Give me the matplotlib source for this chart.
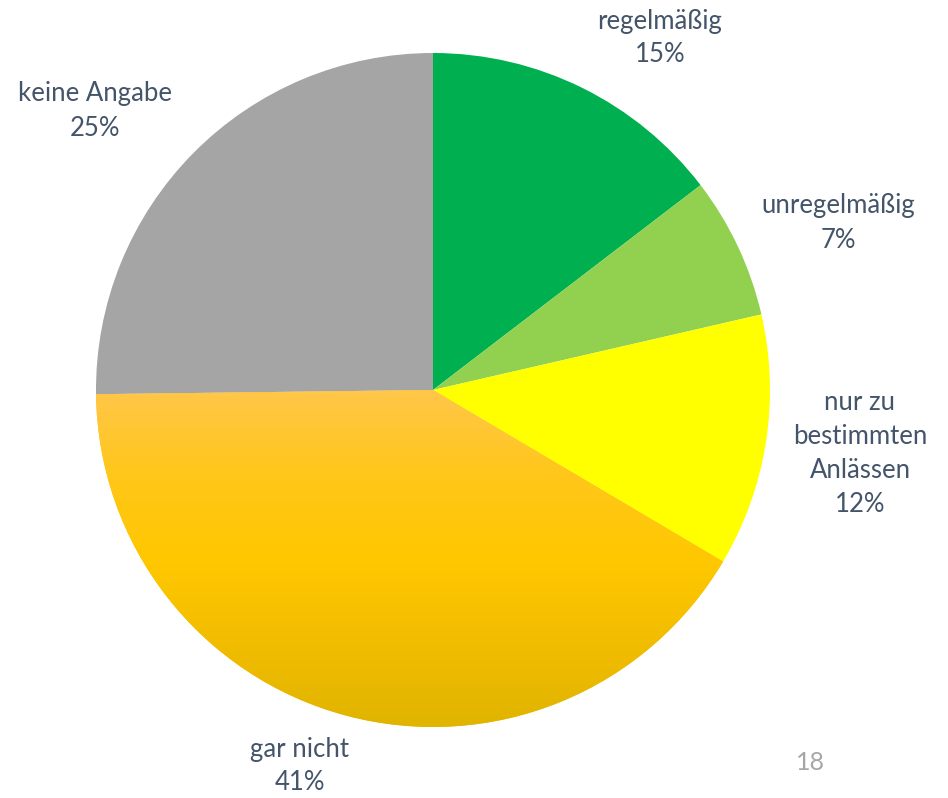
import matplotlib
matplotlib.use('Agg')
import matplotlib.pyplot as plt
import numpy as np
from matplotlib.colors import LinearSegmentedColormap

# Daten
labels = ['regelmäßig', 'unregelmäßig', 'nur zu\nbestimmten\nAnlässen', 'gar nicht', 'keine Angabe']
values = [14.6, 6.8, 12.1, 41.3, 25.2]
colors = ['#00B050', '#92D050', '#FFFF00', '#FFC000', '#A5A5A5']
page_no = '18'

# Label-Positionen in Pixel (Mitte des Textblocks)
label_pos = [(660, 38), (838, 223), (860, 454), (300, 766), (95, 111)]

W, H = 948, 798
cx, cy, r = 433, 390, 337
text_color = '#44546A'

plt.rcParams['font.family'] = ['Lato', 'DejaVu Sans']

fig = plt.figure(figsize=(W / 100, H / 100), dpi=100)
ax = fig.add_axes([0, 0, 1, 1])

wedges, _ = ax.pie(values, colors=colors, startangle=90, counterclock=False,
                   center=(cx, H - cy), radius=r, frame=True,
                   wedgeprops=dict(linewidth=0))
ax.set_xlim(0, W)
ax.set_ylim(0, H)
ax.axis('off')

# Farbverlauf fuer "gar nicht"
grad_cmap = LinearSegmentedColormap.from_list(
    'gold', ['#FFC74A', '#FFC61A', '#FFC800', '#F2BD00', '#E0B400'])
w = wedges[3]
grad = np.linspace(0, 1, 256).reshape(-1, 1)
im = ax.imshow(grad, cmap=grad_cmap, aspect='auto',
               extent=(cx - r, cx + r, H - cy - r, H - cy), origin='upper',
               zorder=w.get_zorder())
im.set_clip_path(w)

for lab, val, (px, py) in zip(labels, values, label_pos):
    ax.text(px, H - py, f'{lab}\n{val:.0f}%', ha='center', va='center',
            multialignment='center', fontsize=18.5, color=text_color,
            linespacing=1.45)

ax.text(810, H - 763, page_no, ha='center', va='center', fontsize=18, color='#A6A6A6')

fig.savefig('out.png', dpi=100)
